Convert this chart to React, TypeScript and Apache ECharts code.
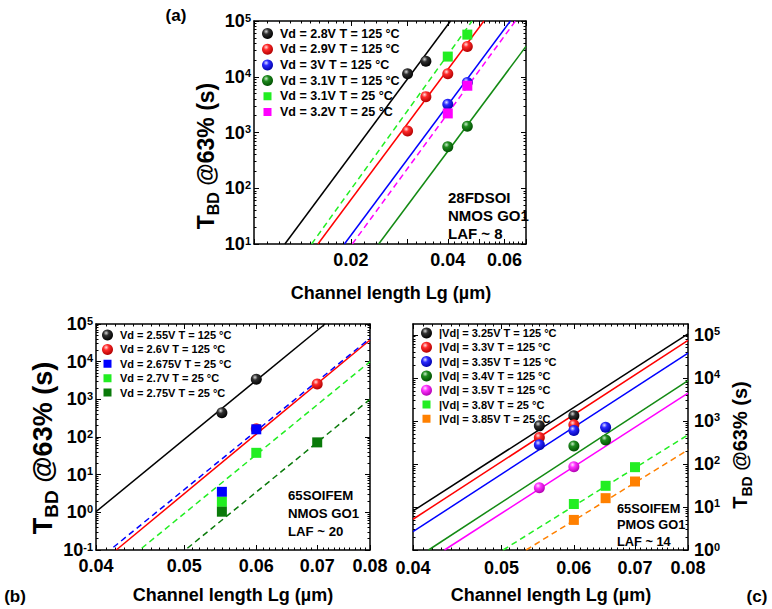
import React, { useEffect, useRef } from "react";
import * as echarts from "echarts";

const FONT = "'Liberation Sans', Arial, Helvetica, sans-serif";
const L = (v: number) => Math.log10(v);

// ---------------- Panel (a) 28FDSOI NMOS GO1 ----------------
const aNames = [
  "Vd = 2.8V T = 125 °C",
  "Vd = 2.9V T = 125 °C",
  "Vd = 3V T = 125 °C",
  "Vd = 3.1V T = 125 °C",
  "Vd = 3.1V T = 25 °C",
  "Vd = 3.2V T = 25 °C",
];
const aLg28 = [0.03, 0.0342];
const aT28 = [1.13e4, 1.9e4];
const aLg29 = [0.03, 0.0342, 0.04, 0.046];
const aT29 = [1.06e3, 4.4e3, 1.13e4, 3.5e4];
const aLg30 = [0.04, 0.046];
const aT30 = [3.2e3, 7.9e3];
const aLg31h = [0.04, 0.046];
const aT31h = [555, 1.3e3];
const aLg31r = [0.04, 0.046];
const aT31r = [2.3e4, 5.7e4];
const aLg32r = [0.04, 0.046];
const aT32r = [2.2e3, 6.9e3];
const aFit28 = [[0.01247, 10], [0.0408, 1e5]];
const aFit29 = [[0.0158, 10], [0.0518, 1e5]];
const aFit30 = [[0.0191, 10], [0.0626, 1e5]];
const aFit31h = [[0.0244, 10], [0.07, 3.5e4]];
const aFit31r = [[0.0151, 10], [0.0476, 1e5]];
const aFit32r = [[0.0202, 10], [0.0649, 1e5]];
const aXLabels = [0.02, 0.04, 0.06];
const aXMajor = [0.01, 0.02, 0.03, 0.04, 0.05, 0.06, 0.07];
const aYLabels = [1, 2, 3, 4, 5];

// ---------------- Panel (b) 65SOIFEM NMOS GO1 ----------------
const bNames = [
  "Vd = 2.55V T = 125 °C",
  "Vd = 2.6V T = 125 °C",
  "Vd = 2.675V T = 25 °C",
  "Vd = 2.7V T = 25 °C",
  "Vd = 2.75V T = 25 °C",
];
const bLg255 = [0.055, 0.06];
const bT255 = [442, 3.4e3];
const bLg26 = [0.06, 0.07];
const bT26 = [165, 2.55e3];
const bLg2675 = [0.055, 0.06];
const bT2675 = [3.5, 160];
const bLg27 = [0.055, 0.06];
const bT27 = [1.9, 38];
const bLg275 = [0.055, 0.07];
const bT275 = [1.04, 72];
const bFit255 = [[0.04, 1.04], [0.0714, 1e5]];
const bFit26 = [[0.0421, 0.1], [0.08, 3.76e4]];
const bFit2675 = [[0.0418, 0.118], [0.08, 4.17e4]];
const bFit27 = [[0.0449, 0.111], [0.08, 1e4]];
const bFit275 = [[0.0504, 0.111], [0.08, 1e3]];
const bcXLabels = [0.04, 0.05, 0.06, 0.07, 0.08];
const bYLabels = [-1, 0, 1, 2, 3, 4, 5];

// ---------------- Panel (c) 65SOIFEM PMOS GO1 ----------------
const cNames = [
  "|Vd| = 3.25V T = 125 °C",
  "|Vd| = 3.3V T = 125 °C",
  "|Vd| = 3.35V T = 125 °C",
  "|Vd| = 3.4V T = 125 °C",
  "|Vd| = 3.5V T = 125 °C",
  "|Vd| = 3.8V T = 25 °C",
  "|Vd| = 3.85V T = 25 °C",
];
const cLg325 = [0.055, 0.06];
const cT325 = [765, 1.31e3];
const cLg33 = [0.055, 0.06];
const cT33 = [409, 807];
const cLg335 = [0.055, 0.06, 0.065];
const cT335 = [277, 595, 713];
const cLg34 = [0.06, 0.065];
const cT34 = [262, 361];
const cLg35 = [0.055, 0.06];
const cT35 = [28, 86];
const cLg38 = [0.06, 0.065, 0.07];
const cT38 = [11.7, 31, 84];
const cLg385 = [0.06, 0.065, 0.07];
const cT385 = [5, 16, 39];
const cFit325 = [[0.04, 8.07], [0.08, 1.05e5]];
const cFit33 = [[0.04, 5.18], [0.08, 7.36e4]];
const cFit335 = [[0.04, 2.67], [0.08, 3.75e4]];
const cFit34 = [[0.0416, 1], [0.08, 8.65e3]];
const cFit35 = [[0.0433, 1], [0.08, 4.4e3]];
const cFit38 = [[0.0502, 1], [0.08, 472]];
const cFit385 = [[0.0532, 1], [0.08, 212]];
const cYLabels = [0, 1, 2, 3, 4, 5];

// ---------------- helpers ----------------
const C = {
  black: ["#d8d8d8", "#303030", "#000000"],
  red: ["#ffe0e0", "#ff2a2a", "#b00000"],
  blue: ["#e0e0ff", "#2a2aff", "#0000a8"],
  dgreen: ["#c8ecc8", "#1f8a1f", "#004f00"],
  magenta: ["#ffe0ff", "#ff33ff", "#b000b0"],
};
const sphere = (c: string[]) => ({
  type: "radial",
  x: 0.38,
  y: 0.32,
  r: 0.7,
  colorStops: [
    { offset: 0, color: c[0] },
    { offset: 0.35, color: c[1] },
    { offset: 1, color: c[2] },
  ],
});
const SQUARE_ICON = "path://M0,0L0.01,0Z M1.5,1.5H9.5V9.5H1.5Z M11,11L10.99,11Z";

function steps(a: number, b: number, s: number) {
  const out: number[] = [];
  const n = Math.round((b - a) / s);
  for (let i = 0; i <= n; i++) out.push(+(a + i * s).toFixed(6));
  return out;
}
function logMinor(n0: number, n1: number) {
  const out: number[] = [];
  for (let n = n0; n <= n1; n++) for (let k = 2; k <= 9; k++) out.push(Math.log10(k) + n);
  return out;
}
const within = (arr: number[], lo: number, hi: number) => arr.filter((v) => v > lo + 1e-9 && v < hi - 1e-9);

function sc(p: number, name: string, xs: number[], ys: number[], color: any, square: boolean) {
  return {
    type: "scatter",
    name,
    xAxisIndex: 4 * p,
    yAxisIndex: 4 * p,
    data: xs.map((x, i) => [L(x), L(ys[i])]),
    symbol: square ? "rect" : "circle",
    symbolSize: square ? 10 : 11,
    itemStyle: { color, opacity: 1 },
    z: square ? 5 : 4,
    silent: true,
  };
}
function fit(p: number, name: string, pts: number[][], color: string, dashed: boolean) {
  return {
    type: "line",
    name: name + " fit",
    xAxisIndex: 4 * p,
    yAxisIndex: 4 * p,
    data: pts.map(([x, y]) => [L(x), L(y)]),
    showSymbol: false,
    symbol: "none",
    clip: true,
    silent: true,
    lineStyle: { color, width: 1.5, type: dashed ? [6, 4] : "solid" },
    z: 2,
  };
}

const labelRich = {
  b: { fontSize: 18, fontWeight: "bold", fontFamily: FONT, color: "#000", lineHeight: 18 },
  p: { fontSize: 11, fontWeight: "bold", fontFamily: FONT, color: "#000", verticalAlign: "top", lineHeight: 10 },
};
const yFmt = (v: number) => `{b|10}{p|${Math.round(v)}}`;
const xFmt = (v: number) => Math.pow(10, v).toFixed(2);

function panelAxes(spec: {
  p: number;
  rect: { left: number; top: number; width: number; height: number };
  xr: number[];
  yr: number[];
  xMajor: number[];
  xMinor: number[];
  xLabels: number[];
  yMajor: number[];
  yMinor: number[];
  yLabels: number[];
  yRight: boolean;
  xMargin: number;
  yMargin: number;
}) {
  const grids = [
    { ...spec.rect, containLabel: false },
    { ...spec.rect, containLabel: false },
  ];
  const lineOn = { show: true, onZero: false, lineStyle: { color: "#000", width: 1.5 } };
  const lineOff = { show: false, onZero: false };
  const mkX = (g: number, pos: string, major: boolean, labels: boolean) => ({
    type: "value",
    gridIndex: g,
    position: pos,
    min: spec.xr[0],
    max: spec.xr[1],
    axisLine: major ? lineOn : lineOff,
    axisTick: {
      show: true,
      inside: true,
      length: major ? 5 : 2.5,
      customValues: major ? spec.xMajor : spec.xMinor,
      lineStyle: { color: "#000", width: 1 },
    },
    axisLabel: labels
      ? {
          show: true,
          customValues: spec.xLabels,
          formatter: xFmt,
          margin: spec.xMargin,
          color: "#000",
          fontSize: 18,
          fontWeight: "bold",
          fontFamily: FONT,
        }
      : { show: false },
    splitLine: { show: false },
  });
  const mkY = (g: number, pos: string, major: boolean, labels: boolean) => ({
    type: "value",
    gridIndex: g,
    position: pos,
    min: spec.yr[0],
    max: spec.yr[1],
    axisLine: major ? lineOn : lineOff,
    axisTick: {
      show: true,
      inside: true,
      length: major ? 5 : 2.5,
      customValues: major ? spec.yMajor : spec.yMinor,
      lineStyle: { color: "#000", width: 1 },
    },
    axisLabel: labels
      ? {
          show: true,
          customValues: spec.yLabels,
          formatter: yFmt,
          margin: spec.yMargin,
          rich: labelRich,
        }
      : { show: false },
    splitLine: { show: false },
  });
  const g0 = 2 * spec.p;
  const g1 = 2 * spec.p + 1;
  const xAxes = [mkX(g0, "bottom", true, true), mkX(g0, "top", true, false), mkX(g1, "bottom", false, false), mkX(g1, "top", false, false)];
  const yAxes = [
    mkY(g0, "left", true, !spec.yRight),
    mkY(g0, "right", true, spec.yRight),
    mkY(g1, "left", false, false),
    mkY(g1, "right", false, false),
  ];
  return { grids, xAxes, yAxes };
}

function buildOption() {
  const A = panelAxes({
    p: 0,
    rect: { left: 254, top: 21, width: 272, height: 223 },
    xr: [L(0.01), L(0.07)],
    yr: [1, 5],
    xMajor: aXMajor.map(L),
    xMinor: within([...steps(0.01, 0.02, 0.001), ...steps(0.02, 0.07, 0.002)].map(L), L(0.01), L(0.07)),
    xLabels: aXLabels.map(L),
    yMajor: aYLabels,
    yMinor: within(logMinor(1, 4), 1, 5),
    yLabels: aYLabels,
    yRight: false,
    xMargin: 7,
    yMargin: 3,
  });
  const B = panelAxes({
    p: 1,
    rect: { left: 96, top: 324, width: 274, height: 226 },
    xr: [L(0.04), L(0.08)],
    yr: [-1, 5],
    xMajor: bcXLabels.map(L),
    xMinor: within(steps(0.04, 0.08, 0.001).map(L), L(0.04), L(0.08)),
    xLabels: bcXLabels.map(L),
    yMajor: bYLabels,
    yMinor: within(logMinor(-1, 4), -1, 5),
    yLabels: bYLabels,
    yRight: false,
    xMargin: 7,
    yMargin: 3,
  });
  const Cx = panelAxes({
    p: 2,
    rect: { left: 413, top: 324, width: 275, height: 226 },
    xr: [L(0.04), L(0.08)],
    yr: [0, 5.25],
    xMajor: bcXLabels.map(L),
    xMinor: within(steps(0.04, 0.08, 0.001).map(L), L(0.04), L(0.08)),
    xLabels: bcXLabels.map(L),
    yMajor: cYLabels,
    yMinor: within(logMinor(0, 5), 0, 5.25),
    yLabels: cYLabels,
    yRight: true,
    xMargin: 9,
    yMargin: 6,
  });

  const LG = "#22ee22";
  const DG2 = "#0a7a0a";
  const series: any[] = [
    // (a)
    fit(0, aNames[0], aFit28, "#000", false),
    fit(0, aNames[1], aFit29, "#ff0000", false),
    fit(0, aNames[2], aFit30, "#0000ff", false),
    fit(0, aNames[3], aFit31h, "#138a13", false),
    fit(0, aNames[4], aFit31r, LG, true),
    fit(0, aNames[5], aFit32r, "#ff00ff", true),
    sc(0, aNames[0], aLg28, aT28, sphere(C.black), false),
    sc(0, aNames[1], aLg29, aT29, sphere(C.red), false),
    sc(0, aNames[2], aLg30, aT30, sphere(C.blue), false),
    sc(0, aNames[3], aLg31h, aT31h, sphere(C.dgreen), false),
    sc(0, aNames[4], aLg31r, aT31r, LG, true),
    sc(0, aNames[5], aLg32r, aT32r, "#ff00ff", true),
    // (b)
    fit(1, bNames[0], bFit255, "#000", false),
    fit(1, bNames[1], bFit26, "#ff0000", false),
    fit(1, bNames[2], bFit2675, "#0000ff", true),
    fit(1, bNames[3], bFit27, LG, true),
    fit(1, bNames[4], bFit275, DG2, true),
    sc(1, bNames[0], bLg255, bT255, sphere(C.black), false),
    sc(1, bNames[1], bLg26, bT26, sphere(C.red), false),
    sc(1, bNames[2], bLg2675, bT2675, "#0000ff", true),
    sc(1, bNames[3], bLg27, bT27, LG, true),
    sc(1, bNames[4], bLg275, bT275, DG2, true),
    // (c)
    fit(2, cNames[0], cFit325, "#000", false),
    fit(2, cNames[1], cFit33, "#ff0000", false),
    fit(2, cNames[2], cFit335, "#0000ff", false),
    fit(2, cNames[3], cFit34, "#138a13", false),
    fit(2, cNames[4], cFit35, "#ff00ff", false),
    fit(2, cNames[5], cFit38, LG, true),
    fit(2, cNames[6], cFit385, "#ff8000", true),
    sc(2, cNames[0], cLg325, cT325, sphere(C.black), false),
    sc(2, cNames[1], cLg33, cT33, sphere(C.red), false),
    sc(2, cNames[2], cLg335, cT335, sphere(C.blue), false),
    sc(2, cNames[3], cLg34, cT34, sphere(C.dgreen), false),
    sc(2, cNames[4], cLg35, cT35, sphere(C.magenta), false),
    sc(2, cNames[5], cLg38, cT38, LG, true),
    sc(2, cNames[6], cLg385, cT385, "#ff8000", true),
  ];

  const legendBase = (fs: number, gap: number) => ({
    orient: "vertical",
    itemWidth: 11,
    itemHeight: 11,
    itemGap: gap,
    selectedMode: false,
    padding: 0,
    textStyle: {
      color: "#000",
      fontSize: fs,
      lineHeight: 12,
      fontWeight: "bold",
      fontFamily: FONT,
      padding: [0, 0, 0, 2],
    },
  });
  const legData = (names: string[], squares: number[]) =>
    names.map((n, i) => (squares.includes(i) ? { name: n, icon: SQUARE_ICON } : { name: n, icon: "circle" }));

  const titleRich = (fs: number, sub: number) => ({
    t: { fontSize: fs, fontWeight: "bold", fontFamily: FONT, fill: "#000", lineHeight: fs + 4, verticalAlign: "top" },
    s: { fontSize: sub, fontWeight: "bold", fontFamily: FONT, fill: "#000", lineHeight: sub, verticalAlign: "bottom" },
  });
  const yTitle = (x: number, y: number, fs: number, sub: number) => ({
    type: "text",
    x,
    y,
    rotation: Math.PI / 2,
    style: {
      text: "{t|T}{s|BD}{t| @63% (s)}",
      rich: titleRich(fs, sub),
      align: "center",
      verticalAlign: "middle",
    },
  });
  const txt = (x: number, y: number, text: string, fs: number, align = "center", lh?: number) => ({
    type: "text",
    x,
    y,
    style: {
      text,
      fontSize: fs,
      fontWeight: "bold",
      fontFamily: FONT,
      fill: "#000",
      align,
      verticalAlign: lh ? "top" : "middle",
      lineHeight: lh,
    },
  });

  return {
    animation: false,
    backgroundColor: "#fff",
    grid: [...A.grids, ...B.grids, ...Cx.grids],
    xAxis: [...A.xAxes, ...B.xAxes, ...Cx.xAxes],
    yAxis: [...A.yAxes, ...B.yAxes, ...Cx.yAxes],
    legend: [
      { ...legendBase(12.5, 2.7), left: 262, top: 27, data: legData(aNames, [4, 5]) },
      { ...legendBase(11, 2.4), left: 102, top: 329, data: legData(bNames, [2, 3, 4]) },
      { ...legendBase(11, 2.3), left: 421, top: 327, data: legData(cNames, [5, 6]) },
    ],
    series,
    graphic: [
      yTitle(208, 156, 23, 16),
      yTitle(45, 448, 27, 19),
      yTitle(742, 445, 20, 14),
      txt(391, 293, "Channel length Lg (µm)", 18),
      txt(233, 595, "Channel length Lg (µm)", 18),
      txt(551, 595, "Channel length Lg (µm)", 18),
      txt(448, 188, "28FDSOI\nNMOS GO1\nLAF ~ 8", 15, "left", 18),
      txt(288, 486, "65SOIFEM\nNMOS GO1\nLAF ~ 20", 13.2, "left", 18),
      txt(617, 500, "65SOIFEM\nPMOS GO1\nLAF ~ 14", 12.8, "left", 16.5),
      txt(176, 15, "(a)", 17),
      txt(15, 596, "(b)", 17),
      txt(757, 596, "(c)", 17),
    ],
  };
}

export default function App() {
  const ref = useRef<HTMLDivElement>(null);
  useEffect(() => {
    document.body.style.margin = "0";
    const chart = echarts.init(ref.current!, null, { renderer: "svg" });
    chart.setOption(buildOption() as any);
    return () => chart.dispose();
  }, []);
  return <div ref={ref} style={{ width: 772, height: 609 }} />;
}
